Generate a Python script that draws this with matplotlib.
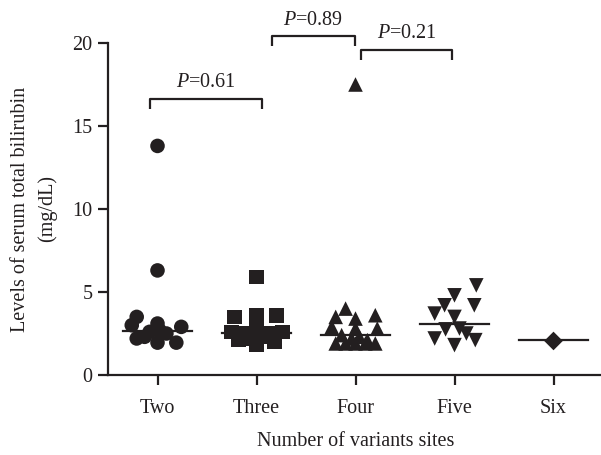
import numpy as np
import matplotlib
matplotlib.use("Agg")
from matplotlib import pyplot as plt

plt.rcParams['font.family'] = ['Liberation Serif', 'DejaVu Serif']
plt.rcParams['mathtext.fontset'] = 'custom'
plt.rcParams['mathtext.rm'] = 'Liberation Serif'
plt.rcParams['mathtext.it'] = 'Liberation Serif:italic'
INK = '#231f20'
FS = 14.5

groups   = ['Two', 'Three', 'Four', 'Five', 'Six']
markers  = ['o', 's', '^', 'v', 'D']

# values, with horizontal spread (in category units)
two_y    = [13.8, 6.3, 3.5, 3.0, 3.1, 2.9, 2.7, 2.6, 2.5, 2.3, 2.2, 1.95, 1.95]
two_dx   = [0.0, 0.0, -0.21, -0.26, 0.0, 0.24, 0.02, -0.08, 0.09, -0.13, -0.21, 0.0, 0.19]
three_y  = [5.9, 3.5, 3.6, 3.6, 2.6, 2.6, 2.5, 2.7, 2.5, 2.1, 2.0, 1.8, 2.2, 2.3]
three_dx = [0.0, -0.22, 0.0, 0.2, -0.25, 0.26, -0.12, 0.0, 0.12, -0.18, 0.18, 0.0, -0.06, 0.06]
four_y   = [17.5, 4.0, 3.5, 3.4, 3.6, 2.9, 2.8, 2.8, 2.4, 2.3, 2.2, 2.1, 1.9, 1.9, 1.9, 1.9, 1.9]
four_dx  = [0.0, -0.1, -0.2, 0.0, 0.2, -0.24, 0.0, 0.22, -0.14, 0.04, -0.04, 0.12, -0.2, -0.1, 0.0, 0.1, 0.2]
five_y   = [5.4, 4.8, 4.2, 4.2, 3.7, 3.5, 2.75, 2.8, 2.5, 2.2, 1.8, 2.1]
five_dx  = [0.22, 0.0, 0.2, -0.1, -0.2, 0.0, -0.09, 0.05, 0.12, -0.2, 0.0, 0.21]
six_y    = [2.05]
six_dx   = [0.0]
medians  = [2.65, 2.55, 2.4, 3.1, 2.1]

# significance brackets: (x0, x1, y, label)
brackets = [(-0.08, 1.06, 16.65, '=0.61'),
            (1.16, 1.99, 20.4, '=0.89'),
            (2.06, 2.97, 19.6, '=0.21')]

ys  = [two_y, three_y, four_y, five_y, six_y]
dxs = [two_dx, three_dx, four_dx, five_dx, six_dx]

fig = plt.figure(figsize=(6.01, 4.55), dpi=100)
ax = fig.add_axes([108/601, 80/455, 495/601, 332/455])

for i, (yy, dx, m) in enumerate(zip(ys, dxs, markers)):
  xx = i + np.asarray(dx)
  size = 90 if m == 'D' else 110
  ax.scatter(xx, yy, marker=m, s=size, c=INK, edgecolors='none', zorder=3)
  ax.plot([i - 0.35, i + 0.35], [medians[i]] * 2, color=INK, lw=1.6, zorder=4)

for x0, x1, y, rest in brackets:
  ax.plot([x0, x0, x1, x1], [y - 0.6, y, y, y - 0.6], color=INK, lw=1.6,
          clip_on=False, solid_capstyle='butt')
  ax.text((x0 + x1) / 2, y + 0.4, r'$\mathit{P}$' + rest, ha='center', va='bottom',
          fontsize=FS, color=INK)

ax.set_xlim(-0.5, 4.5)
ax.set_ylim(0, 20)
ax.set_xticks(range(len(groups)))
ax.set_xticklabels(groups)
ax.set_yticks([0, 5, 10, 15, 20])
for s in ['top', 'right']:
  ax.spines[s].set_visible(False)
for s in ['left', 'bottom']:
  ax.spines[s].set_linewidth(1.6)
  ax.spines[s].set_color(INK)
ax.tick_params(axis='both', width=1.6, length=7, color=INK, labelsize=FS,
               labelcolor=INK)
ax.tick_params(axis='x', pad=10)
ax.tick_params(axis='y', pad=4)

ax.set_xlabel('Number of variants sites', fontsize=FS, color=INK, labelpad=10)
ax.set_ylabel('Levels of serum total bilirubin\n(mg/dL)', fontsize=FS, color=INK,
              labelpad=11, linespacing=1.5)

fig.savefig('out.png', dpi=100)
